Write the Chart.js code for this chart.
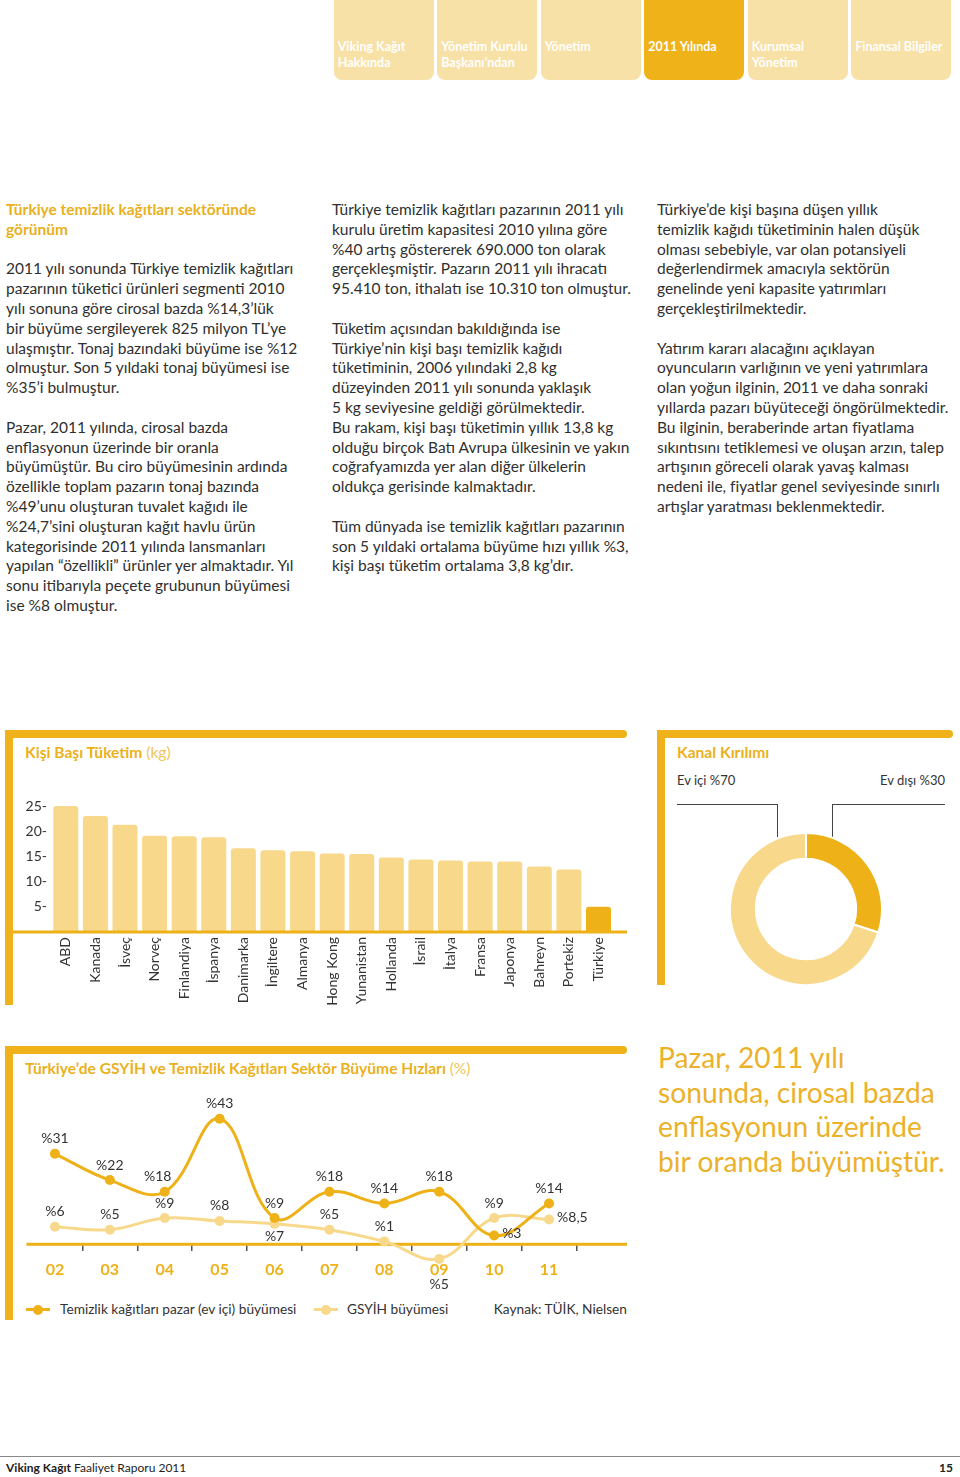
<!DOCTYPE html>
<html lang="tr">
<head>
<meta charset="UTF-8">
<title>Viking Kağıt Faaliyet Raporu 2011</title>
<script src="https://cdn.jsdelivr.net/npm/chart.js"></script>
<style>
  body { margin:0; width:960px; height:1477px; position:relative; background:#fff; overflow:hidden;
         font-family: Lato, "Open Sans", sans-serif; color:#2f2f2f; }
  .tab { position:absolute; top:0; width:100px; height:80px; background:#f8e1a6; border-radius:0 0 8px 8px;
         color:#fff; font-weight:bold; font-size:12.5px; line-height:15.6px; }
  .tab span { position:absolute; left:4px; top:39px; white-space:nowrap; }
  .tab.on { background:#efb219; }
  .col { position:absolute; top:200px; font-size:15.5px; line-height:19.8px; white-space:nowrap; }
  .col h3 { margin:0 0 19.8px 0; font-size:15.5px; line-height:19.8px; color:#e9b020; font-weight:bold; }
  .col p { margin:0 0 19.8px 0; }
  .bar { position:absolute; background:#efb21a; }
  .ttl { position:absolute; font-size:15.6px; font-weight:bold; color:#eab11c; white-space:nowrap; }
  .ttl i { font-style:normal; font-weight:normal; color:#f0c65a; }
  .lbl { position:absolute; font-size:13px; color:#333; white-space:nowrap; }
  .lead { position:absolute; border-color:#444; border-style:solid; border-width:0; }
  .quote { position:absolute; left:658px; top:1040px; font-size:28.2px; line-height:34.6px; color:#ecb12a; white-space:nowrap; }
  .leg { position:absolute; top:1300px; font-size:13.7px; color:#333; white-space:nowrap; line-height:18px; }
  .mk { position:absolute; top:1308px; width:24px; height:3px; }
  .mk b { position:absolute; left:7px; top:-3.5px; width:10px; height:10px; border-radius:50%; background:inherit; }
  .foot { position:absolute; top:1460px; font-size:12px; color:#222; }
</style>
</head>
<body>

<div id="tabs"></div>

<div class="col" style="left:6px">
  <h3>Türkiye temizlik kağıtları sektöründe<br>görünüm</h3>
  <p>2011 yılı sonunda Türkiye temizlik kağıtları<br>pazarının tüketici ürünleri segmenti 2010<br>yılı sonuna göre cirosal bazda %14,3’lük<br>bir büyüme sergileyerek 825 milyon TL’ye<br>ulaşmıştır. Tonaj bazındaki büyüme ise %12<br>olmuştur. Son 5 yıldaki tonaj büyümesi ise<br>%35’i bulmuştur.</p>
  <p>Pazar, 2011 yılında, cirosal bazda<br>enflasyonun üzerinde bir oranla<br>büyümüştür. Bu ciro büyümesinin ardında<br>özellikle toplam pazarın tonaj bazında<br>%49’unu oluşturan tuvalet kağıdı ile<br>%24,7’sini oluşturan kağıt havlu ürün<br>kategorisinde 2011 yılında lansmanları<br>yapılan “özellikli” ürünler yer almaktadır. Yıl<br>sonu itibarıyla peçete grubunun büyümesi<br>ise %8 olmuştur.</p>
</div>
<div class="col" style="left:332px">
  <p>Türkiye temizlik kağıtları pazarının 2011 yılı<br>kurulu üretim kapasitesi 2010 yılına göre<br>%40 artış göstererek 690.000 ton olarak<br>gerçekleşmiştir. Pazarın 2011 yılı ihracatı<br>95.410 ton, ithalatı ise 10.310 ton olmuştur.</p>
  <p>Tüketim açısından bakıldığında ise<br>Türkiye’nin kişi başı temizlik kağıdı<br>tüketiminin, 2006 yılındaki 2,8 kg<br>düzeyinden 2011 yılı sonunda yaklaşık<br>5 kg seviyesine geldiği görülmektedir.<br>Bu rakam, kişi başı tüketimin yıllık 13,8 kg<br>olduğu birçok Batı Avrupa ülkesinin ve yakın<br>coğrafyamızda yer alan diğer ülkelerin<br>oldukça gerisinde kalmaktadır.</p>
  <p>Tüm dünyada ise temizlik kağıtları pazarının<br>son 5 yıldaki ortalama büyüme hızı yıllık %3,<br>kişi başı tüketim ortalama 3,8 kg’dır.</p>
</div>
<div class="col" style="left:657px">
  <p>Türkiye’de kişi başına düşen yıllık<br>temizlik kağıdı tüketiminin halen düşük<br>olması sebebiyle, var olan potansiyeli<br>değerlendirmek amacıyla sektörün<br>genelinde yeni kapasite yatırımları<br>gerçekleştirilmektedir.</p>
  <p>Yatırım kararı alacağını açıklayan<br>oyuncuların varlığının ve yeni yatırımlara<br>olan yoğun ilginin, 2011 ve daha sonraki<br>yıllarda pazarı büyüteceği öngörülmektedir.<br>Bu ilginin, beraberinde artan fiyatlama<br>sıkıntısını tetiklemesi ve oluşan arzın, talep<br>artışının göreceli olarak yavaş kalması<br>nedeni ile, fiyatlar genel seviyesinde sınırlı<br>artışlar yaratması beklenmektedir.</p>
</div>

<!-- bar chart panel -->
<div class="bar" style="left:5px;top:730px;width:622px;height:8px;border-radius:0 4px 4px 0"></div>
<div class="bar" style="left:5px;top:730px;width:8px;height:275px"></div>
<div class="ttl" style="left:25px;top:743px">Kişi Başı Tüketim <i>(kg)</i></div>
<div style="position:absolute;left:13px;top:790px;width:614px;height:222px"><canvas id="barChart"></canvas></div>

<!-- donut panel -->
<div class="bar" style="left:657px;top:730px;width:296px;height:8px;border-radius:0 4px 4px 0"></div>
<div class="bar" style="left:657px;top:730px;width:8px;height:255px"></div>
<div class="ttl" style="left:677px;top:743px">Kanal Kırılımı</div>
<div class="lbl" id="lblIn" style="left:677px;top:772px"></div>
<div class="lbl" id="lblOut" style="right:15px;top:772px"></div>
<div class="lead" style="left:677px;top:804px;width:100px;height:32px;border-top-width:1.5px;border-right-width:1.5px"></div>
<div class="lead" style="left:832px;top:804px;width:112px;height:32px;border-top-width:1.5px;border-left-width:1.5px"></div>
<div style="position:absolute;left:729px;top:832px;width:154px;height:154px"><canvas id="donutChart"></canvas></div>

<!-- line chart panel -->
<div class="bar" style="left:5px;top:1046px;width:622px;height:8px;border-radius:0 4px 4px 0"></div>
<div class="bar" style="left:5px;top:1046px;width:8px;height:274px"></div>
<div class="ttl" style="left:25px;top:1059px">Türkiye’de GSYİH ve Temizlik Kağıtları Sektör Büyüme Hızları <i>(%)</i></div>
<div style="position:absolute;left:13px;top:1090px;width:614px;height:205px"><canvas id="lineChart"></canvas></div>
<div id="legend"></div>
<div class="leg" style="right:333px">Kaynak: TÜİK, Nielsen</div>

<div class="quote">Pazar, 2011 yılı<br>sonunda, cirosal bazda<br>enflasyonun üzerinde<br>bir oranda büyümüştür.</div>

<div style="position:absolute;left:0;top:1456px;width:960px;height:1px;background:#888"></div>
<div class="foot" style="left:6px"><b>Viking Kağıt</b> Faaliyet Raporu 2011</div>
<div class="foot" style="right:7px"><b>15</b></div>

<script>
// --- header menu
const menuItems = ['Viking Kağıt<br>Hakkında', 'Yönetim Kurulu<br>Başkanı’ndan', 'Yönetim', '2011 Yılında', 'Kurumsal<br>Yönetim', 'Finansal Bilgiler'];
const activeMenu = 3;

// --- kişi başı tüketim (kg)
const countries = ['ABD', 'Kanada', 'İsveç', 'Norveç', 'Finlandiya', 'İspanya', 'Danimarka', 'İngiltere', 'Almanya',
                   'Hong Kong', 'Yunanistan', 'Hollanda', 'İsrail', 'İtalya', 'Fransa', 'Japonya', 'Bahreyn', 'Portekiz', 'Türkiye'];
const perCapitaKg = [25, 23, 21.3, 19.1, 19, 18.8, 16.6, 16.2, 16, 15.6, 15.5, 14.8, 14.4, 14.2, 14, 14, 13, 12.4, 5];
const kgTicks = [5, 10, 15, 20, 25];

// --- kanal kırılımı
const channels = ['Ev dışı', 'Ev içi'];
const channelShares = [30, 70];

// --- büyüme hızları (%)
const years = ['02', '03', '04', '05', '06', '07', '08', '09', '10', '11'];
const marketGrowth = [31, 22, 18, 43, 9, 18, 14, 18, 3, 14];
const gdpGrowth = [6, 5, 9, 8, 7, 5, 1, -5, 9, 8.5];
const seriesNames = ['Temizlik kağıtları pazar (ev içi) büyümesi', 'GSYİH büyümesi'];

const DARK = '#eeb118';
const LIGHT = '#f8d98c';
const FONT = 'Lato, "Open Sans", sans-serif';

document.getElementById('tabs').innerHTML = menuItems.map((t, i) =>
  `<div class="tab${i === activeMenu ? ' on' : ''}" style="left:${333.7 + i * 103.5}px"><span>${t}</span></div>`).join('');

// draws the orange zero line across the panel
const baseLine = {
  id: 'baseLine',
  beforeDatasetsDraw(chart, args, opts) { if (!opts.after) drawBase(chart, opts); },
  afterDatasetsDraw(chart, args, opts) { if (opts.after) drawBase(chart, opts); }
};
function drawBase(chart, opts) {
  const ctx = chart.ctx;
  const y = chart.scales.y.getPixelForValue(0);
  ctx.save();
  ctx.fillStyle = DARK;
  ctx.fillRect(opts.from, y - 1.5, chart.width - opts.from, 3);
  ctx.restore();
}

new Chart(document.getElementById('barChart'), {
  type: 'bar',
  data: {
    labels: countries,
    datasets: [{
      data: perCapitaKg,
      backgroundColor: countries.map(c => c === 'Türkiye' ? DARK : LIGHT),
      borderRadius: { topLeft: 3, topRight: 3 },
      borderSkipped: 'start',
      barPercentage: 0.845,
      categoryPercentage: 1
    }]
  },
  options: {
    responsive: true, maintainAspectRatio: false, animation: false,
    layout: { padding: { top: 16, right: 13.7 } },
    plugins: { legend: { display: false }, tooltip: { enabled: false }, baseLine: { from: 0, after: true } },
    scales: {
      x: {
        grid: { display: false, drawTicks: false }, border: { display: false },
        ticks: { color: '#333', font: { family: FONT, size: 14 }, minRotation: 90, maxRotation: 90, padding: 5, autoSkip: false },
        afterFit: s => { s.height = 80; }
      },
      y: {
        min: 0, max: 25,
        grid: { display: false, drawTicks: false }, border: { display: false },
        afterBuildTicks: s => { s.ticks = kgTicks.map(v => ({ value: v })); },
        ticks: { color: '#333', font: { family: FONT, size: 14 }, padding: 4, callback: v => v + '-' },
        afterFit: s => { s.width = 38; }
      }
    }
  },
  plugins: [baseLine]
});

// --- donut
const byName = {};
channels.forEach((c, i) => { byName[c] = channelShares[i]; });
document.getElementById('lblIn').textContent = 'Ev içi %' + byName['Ev içi'];
document.getElementById('lblOut').textContent = 'Ev dışı %' + byName['Ev dışı'];

new Chart(document.getElementById('donutChart'), {
  type: 'doughnut',
  data: {
    labels: channels,
    datasets: [{ data: channelShares, backgroundColor: [DARK, LIGHT], borderColor: '#fff', borderWidth: 2, hoverOffset: 0 }]
  },
  options: {
    responsive: true, maintainAspectRatio: false, animation: false, cutout: '66%',
    plugins: { legend: { display: false }, tooltip: { enabled: false } }
  }
});

// --- line chart value labels
const pointLabels = {
  id: 'pointLabels',
  afterDatasetsDraw(chart, args, opts) {
    const ctx = chart.ctx;
    ctx.save();
    ctx.font = '14px ' + FONT;
    ctx.fillStyle = '#333';
    ctx.textBaseline = 'middle';
    chart.data.datasets.forEach((ds, di) => {
      chart.getDatasetMeta(di).data.forEach((pt, i) => {
        const txt = '%' + String(Math.abs(ds.data[i])).replace('.', ',');
        const place = (opts.place[di] || {})[i] || 'above';
        let x = pt.x, y = pt.y - 15;
        ctx.textAlign = 'center';
        if (place === 'below') y = pt.y + 13;
        if (place === 'under') y = pt.y + 26;
        if (place === 'left') x = pt.x - 7;
        if (place === 'right') { ctx.textAlign = 'left'; x = pt.x + 8; y = pt.y - 2; }
        ctx.fillText(txt, x, y);
      });
    });
    ctx.restore();
  }
};

new Chart(document.getElementById('lineChart'), {
  type: 'line',
  data: {
    labels: years,
    datasets: [
      { label: seriesNames[0], data: marketGrowth, borderColor: DARK, backgroundColor: DARK, borderWidth: 3,
        pointRadius: 5, pointBorderWidth: 0, tension: 0.4 },
      { label: seriesNames[1], data: gdpGrowth, borderColor: LIGHT, backgroundColor: LIGHT, borderWidth: 3,
        pointRadius: 5, pointBorderWidth: 0, tension: 0.4 }
    ]
  },
  options: {
    responsive: true, maintainAspectRatio: false, animation: false,
    layout: { padding: { top: 8.3, bottom: 21.5, left: 14.5, right: 50.5 } },
    plugins: {
      legend: { display: false }, tooltip: { enabled: false },
      baseLine: { from: 13.5 },
      pointLabels: { place: { 0: { 2: 'left', 8: 'right' }, 1: { 4: 'below', 7: 'under', 9: 'right' } } }
    },
    scales: {
      x: {
        position: { y: 0 }, offset: true,
        border: { display: false },
        grid: { offset: true, drawOnChartArea: false, tickLength: 7, lineWidth: 1.5,
                color: c => c.index === 0 ? 'rgba(0,0,0,0)' : '#555' },
        ticks: { color: DARK, font: { family: FONT, size: 16, weight: 'bold' }, padding: 9 }
      },
      y: { display: false, min: -10, max: 50 }
    }
  },
  plugins: [baseLine, pointLabels]
});

// legend
const legendPos = [{ mk: 26, tx: 60 }, { mk: 314, tx: 347 }];
const legendColors = [DARK, LIGHT];
document.getElementById('legend').innerHTML = seriesNames.map((n, i) =>
  `<div class="mk" style="left:${legendPos[i].mk}px;background:${legendColors[i]}"><b></b></div>` +
  `<div class="leg" style="left:${legendPos[i].tx}px">${n}</div>`).join('');
</script>
</body>
</html>
